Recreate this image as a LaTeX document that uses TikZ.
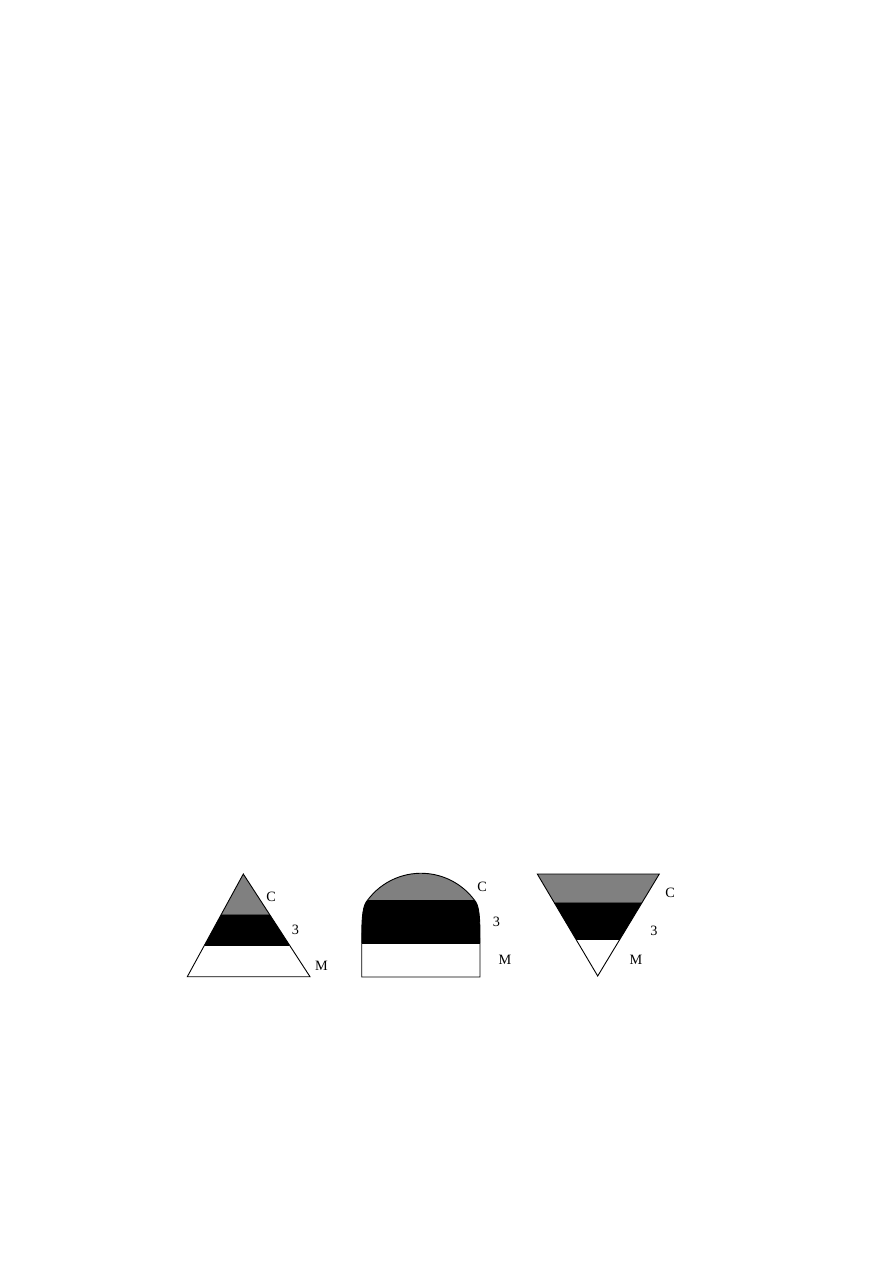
\documentclass[tikz,border=0pt]{standalone}
\usepackage{fontspec}
\setmainfont{Liberation Serif}
\begin{document}
\begin{tikzpicture}[x=0.6667pt,y=-0.6667pt,
  outl/.style={draw=black,line width=0.6pt,line join=miter},
  lab/.style={inner sep=0pt,font=\fontsize{9.5}{11}\selectfont}]
\useasboundingbox (0,0) rectangle (893,1263);
% ---- Shape 1: upright triangle
\fill[gray] (243.3,874) -- (269.5,914.3) -- (221.3,914.3) -- cycle;
\fill[black] (221.3,914.3) -- (269.5,914.3) -- (289.4,945) -- (204.6,945) -- cycle;
\fill[white] (204.6,945) -- (289.4,945) -- (310,976.7) -- (187.3,976.7) -- cycle;
\draw[outl] (243.3,874) -- (310,976.7) -- (187.3,976.7) -- cycle;
\draw[line width=0.4pt] (204.6,945) -- (289.4,945);
\node[lab] (c1) at (271,896.5) {C};
\node[lab] (t1) at (295.5,930) {3};
\node[lab] (m1) at (321.5,966) {M};
% ---- Shape 2: dome
\begin{scope}
\clip (361.7,977) -- (361.7,940) .. controls (361.7,915) and (363,905) .. (367.7,900)
  arc[start angle=216.7,end angle=323.3,radius=66.5]
  .. controls (479,905) and (480,915) .. (480,940) -- (480,977) -- cycle;
\fill[gray] (350,860) rectangle (490,900);
\fill[black] (350,900) rectangle (490,943.3);
\fill[white] (350,943.3) rectangle (490,980);
\end{scope}
\draw[outl] (361.7,977) -- (361.7,940) .. controls (361.7,915) and (363,905) .. (367.7,900)
  arc[start angle=216.7,end angle=323.3,radius=66.5]
  .. controls (479,905) and (480,915) .. (480,940) -- (480,977) -- cycle;
\draw[line width=0.4pt] (361.7,943.3) -- (480,943.3);
\node[lab] (c2) at (482,886.5) {C};
\node[lab] (t2) at (496.5,922) {3};
\node[lab] (m2) at (505,959.5) {M};
% ---- Shape 3: inverted triangle
\fill[gray] (537.3,874) -- (659.3,874) -- (642.2,902.3) -- (554,902.3) -- cycle;
\fill[black] (554,902.3) -- (642.2,902.3) -- (620,939) -- (575.8,939) -- cycle;
\fill[white] (575.8,939) -- (620,939) -- (597.7,976) -- cycle;
\draw[outl] (537.3,874) -- (659.3,874) -- (597.7,976) -- cycle;
\draw[line width=0.4pt] (575.8,939) -- (620,939);
\node[lab] (c3) at (670,893) {C};
\node[lab] (t3) at (654,930.5) {3};
\node[lab] (m3) at (636,960) {M};
\end{tikzpicture}
\end{document}
